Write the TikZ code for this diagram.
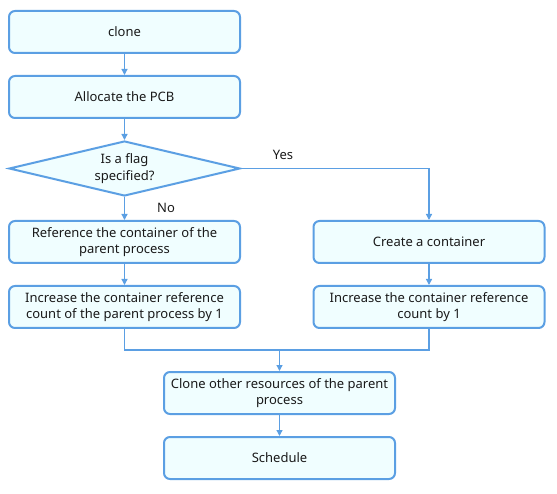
\documentclass[tikz,border=0pt]{standalone}
\usepackage{fontspec}
\setmainfont{Noto Sans}
\usetikzlibrary{shapes.geometric,arrows.meta}
\definecolor{bl}{HTML}{5B9FE3}
\definecolor{fl}{HTML}{F0FEFF}
\definecolor{tx}{HTML}{1A1A1A}
\begin{document}
\begin{tikzpicture}[x=1pt,y=-1pt,
  box/.style={draw=bl,fill=fl,line width=2pt,rounded corners=6pt,minimum width=231pt,minimum height=42pt,align=center,text=tx,font=\fontsize{13}{16.5}\selectfont,inner sep=2pt},
  dia/.style={draw=bl,fill=fl,line width=2pt,diamond,aspect=4.2,minimum width=231pt,minimum height=55pt,inner sep=0pt,align=center,text=tx,font=\fontsize{13}{16.5}\selectfont},
  ln/.style={draw=bl,line width=1.3pt},
  arr/.style={ln,-{Triangle[length=6pt,width=6pt]}},
  lab/.style={text=tx,font=\fontsize{13}{16.5}\selectfont}]
\useasboundingbox (0,0) rectangle (557,494);
\node[box] (clone) at (124.5,32) {clone};
\node[box] (pcb) at (124.5,97) {Allocate the PCB};
\node[dia] (flag) at (124.5,168.5) {Is a flag\\specified?};
\node[box] (ref) at (124.5,242) {Reference the container of the\\parent process};
\node[box] (incl) at (124.5,307) {Increase the container reference\\count of the parent process by 1};
\node[box] (create) at (429,242) {Create a container};
\node[box] (incr) at (429,307) {Increase the container reference\\count by 1};
\node[box] (other) at (279.5,393) {Clone other resources of the parent\\process};
\node[box] (sched) at (279.5,458) {Schedule};
\coordinate (m) at (279.5,350);
\draw[arr] (clone) -- (pcb);
\draw[arr] (pcb) -- (flag);
\draw[arr] (flag) -- (ref);
\draw[arr] (flag.east) -| (create.north);
\draw[arr] (ref) -- (incl);
\draw[arr] (create) -- (incr);
\draw[ln] (incl.south) |- (m);
\draw[ln] (incr.south) |- (m);
\draw[arr] (m) -- (other);
\draw[arr] (other) -- (sched);
\node[lab] (yes) at (283,155) {Yes};
\node[lab] (no) at (166,208) {No};
\end{tikzpicture}
\end{document}
